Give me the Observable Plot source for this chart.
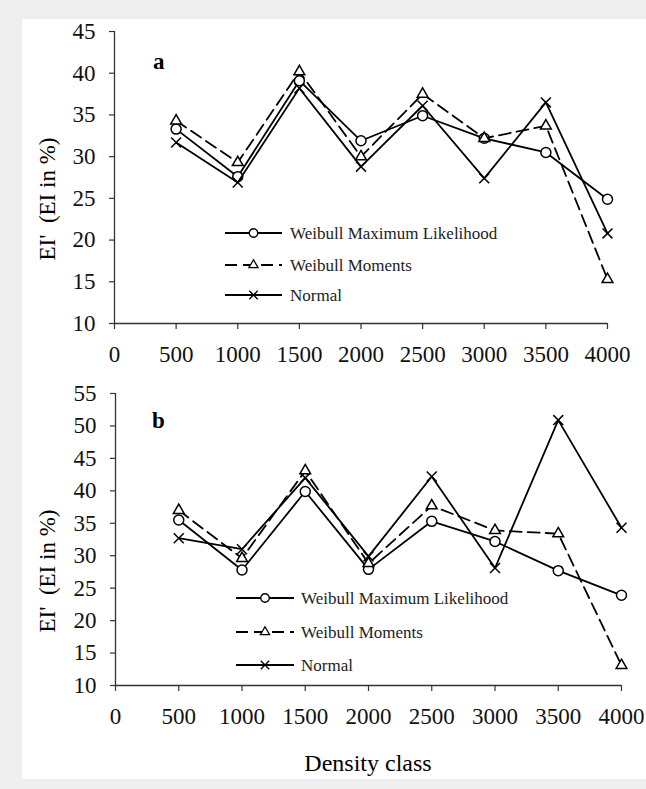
<!DOCTYPE html>
<html><head><meta charset="utf-8">
<script src="https://cdn.jsdelivr.net/npm/d3@7"></script>
<script src="https://cdn.jsdelivr.net/npm/@observablehq/plot@0.6"></script>
<style>
html,body{margin:0;padding:0;background:#fff;}
#wrap{position:relative;width:646px;height:789px;background:#eeeeee;overflow:hidden;}
#inner{position:absolute;left:22px;top:19px;width:624px;height:760px;background:#fff;}
.abs{position:absolute;left:0;}
#wrap svg text{font-family:'Liberation Serif','Times New Roman',serif !important;}
</style></head><body>
<div id="wrap"><div id="inner"></div></div>
<script>
// ---- data ----
const density = [500, 1000, 1500, 2000, 2500, 3000, 3500, 4000];
const seriesNames = ["Weibull Maximum Likelihood", "Weibull Moments", "Normal"];
// panel a
const aML     = [33.3, 27.6, 39.1, 31.9, 34.9, 32.2, 30.5, 24.9];
const aMom    = [34.3, 29.3, 40.2, 30.0, 37.5, 32.2, 33.7, 15.3];
const aNormal = [31.7, 26.9, 38.2, 28.8, 36.1, 27.4, 36.5, 20.8];
// panel b
const bML     = [35.5, 27.8, 39.9, 27.9, 35.3, 32.2, 27.7, 23.9];
const bMom    = [37.0, 29.6, 43.1, 28.8, 37.7, 33.9, 33.4, 13.1];
const bNormal = [32.7, 31.0, 42.0, 29.9, 42.2, 28.1, 50.9, 34.3];
const xTicks  = [0, 500, 1000, 1500, 2000, 2500, 3000, 3500, 4000];
const yTicksA = [10, 15, 20, 25, 30, 35, 40, 45];
const yTicksB = [10, 15, 20, 25, 30, 35, 40, 45, 50, 55];
const yTitle = "EI'  (EI in %)";
const xTitle = "Density class";

// ---- styles ----
const FONT = "'Liberation Serif', 'Times New Roman', serif";
const styles = [
  {symbol: "circle",   d3sym: d3.symbolCircle,   r: 5,   fill: "white", dash: null},
  {symbol: "triangle", d3sym: d3.symbolTriangle, r: 4,   fill: "white", dash: "12,6"},
  {symbol: "times",    d3sym: d3.symbolTimes,    r: 4.6, fill: "none",  dash: null}
];
const LW = 1.8;

function seriesMarks(list) {
  const marks = [];
  list.forEach((vals, i) => {
    const st = styles[i];
    const rows = density.map((d, j) => ({x: d, y: vals[j]}));
    marks.push(Plot.line(rows, {x: "x", y: "y", stroke: "black", strokeWidth: LW,
      strokeDasharray: st.dash || undefined}));
    marks.push(Plot.dot(rows, {x: "x", y: "y", symbol: st.symbol, r: st.r,
      fill: st.fill, stroke: "black", strokeWidth: 1.5}));
  });
  return marks;
}

function panel({top, height, mt, mb, ml, mr, ymax, yTicks, series}) {
  const p = Plot.plot({
    width: 646, height,
    marginTop: mt, marginBottom: mb, marginLeft: ml, marginRight: mr,
    style: {fontFamily: FONT, fontSize: "23px", color: "#111", background: "transparent", overflow: "visible"},
    x: {domain: [0, 4000]},
    y: {domain: [10, ymax]},
    marks: [
      Plot.axisX({ticks: xTicks, tickSize: 6, tickPadding: 16, tickFormat: d => String(d),
        fontSize: 23, label: null, stroke: "#333", strokeWidth: 1.2}),
      Plot.axisY({ticks: yTicks, tickSize: 5, tickPadding: 14, tickFormat: d => String(d),
        fontSize: 23, label: null, stroke: "#333", strokeWidth: 1.2}),
      Plot.ruleX([0], {stroke: "#333", strokeWidth: 1.3}),
      Plot.ruleY([10], {stroke: "#333", strokeWidth: 1.3}),
      ...seriesMarks(series)
    ]
  });
  p.classList.add("abs");
  p.style.top = top + "px";
  document.getElementById("wrap").appendChild(p);
}

panel({top: 0, height: 380, mt: 31, mb: 57, ml: 114, mr: 39, ymax: 45, yTicks: yTicksA,
  series: [aML, aMom, aNormal]});
panel({top: 380, height: 409, mt: 13, mb: 104, ml: 115, mr: 25, ymax: 55, yTicks: yTicksB,
  series: [bML, bMom, bNormal]});

// ---- overlay: titles, panel letters, legends ----
const ov = d3.select("#wrap").append("svg")
  .attr("class", "abs").style("top", "0px")
  .attr("width", 646).attr("height", 789)
  .style("pointer-events", "none")
  .style("font-family", FONT);

[["a", 153, 69], ["b", 152, 428]].forEach(([t, x, y]) => {
  ov.append("text").attr("x", x).attr("y", y).attr("font-size", 23)
    .attr("font-weight", "bold").text(t);
});

[199, 571].forEach(cy => {
  ov.append("text").attr("transform", `translate(47,${cy}) rotate(-90)`)
    .attr("text-anchor", "middle").attr("dy", "0.35em").attr("font-size", 23)
    .style("white-space", "pre").text(yTitle);
});

ov.append("text").attr("x", 368).attr("y", 771).attr("text-anchor", "middle")
  .attr("font-size", 24).text(xTitle);

function legend(x1, x2, xt, ys) {
  seriesNames.forEach((name, i) => {
    const st = styles[i], y = ys[i];
    ov.append("line").attr("x1", x1).attr("x2", x2).attr("y1", y).attr("y2", y)
      .attr("stroke", "black").attr("stroke-width", LW)
      .attr("stroke-dasharray", st.dash);
    const rr = st.r * 0.85;
    ov.append("path").attr("d", d3.symbol(st.d3sym, Math.PI * rr * rr)())
      .attr("transform", `translate(${(x1 + x2) / 2},${y})`)
      .attr("fill", st.fill).attr("stroke", "black").attr("stroke-width", 1.3);
    ov.append("text").attr("x", xt).attr("y", y).attr("dy", "0.35em")
      .attr("font-size", 17).attr("fill", "#222").text(name);
  });
}
legend(225, 282, 290, [233, 265, 295]);
legend(236, 294, 301, [598, 632, 665]);
</script>
</body></html>
